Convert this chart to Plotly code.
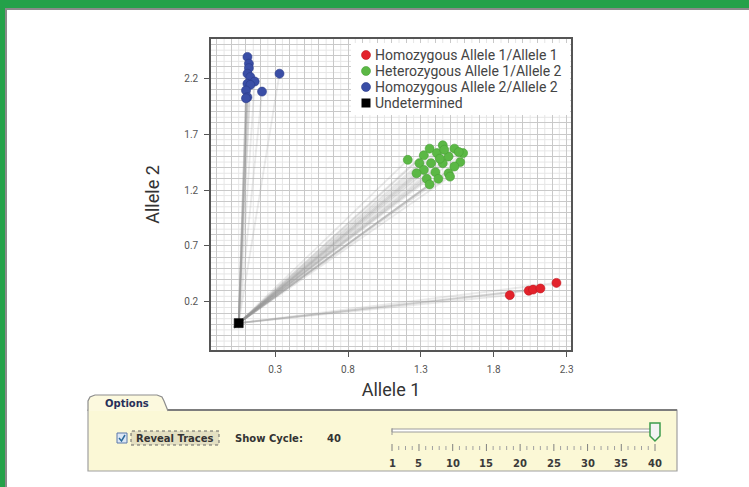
import numpy as np
import plotly.graph_objects as go

# ---------------- data ----------------
hom1_x = [1.91, 2.04, 2.07, 2.12, 2.23]
hom1_y = [0.26, 0.30, 0.31, 0.32, 0.37]

het_x = [1.21, 1.36, 1.45, 1.53, 1.59, 1.32, 1.41, 1.49, 1.57, 1.29, 1.37, 1.45,
         1.53, 1.32, 1.40, 1.49, 1.34, 1.42, 1.36, 1.50, 1.27, 1.43, 1.56, 1.46]
het_y = [1.47, 1.57, 1.60, 1.57, 1.53, 1.51, 1.53, 1.50, 1.45, 1.44, 1.44, 1.44,
         1.41, 1.38, 1.36, 1.35, 1.30, 1.30, 1.25, 1.32, 1.35, 1.48, 1.54, 1.56]

hom2_x = [0.11, 0.12, 0.12, 0.11, 0.13, 0.16, 0.11, 0.13, 0.21, 0.10, 0.11, 0.10, 0.33]
hom2_y = [2.39, 2.33, 2.29, 2.24, 2.21, 2.17, 2.15, 2.14, 2.08, 2.09, 2.03, 2.02, 2.24]

undet_x = [0.05]
undet_y = [0.01]

trace_origin_x = [0.02]
trace_origin_y = [-0.03]

x_ticks = [0.3, 0.8, 1.3, 1.8, 2.3]
y_ticks = [0.2, 0.7, 1.2, 1.7, 2.2]
x_range = [-0.14, 2.33]
y_range = [-0.23, 2.55]

legend_names = ["Homozygous Allele 1/Allele 1", "Heterozygous Allele 1/Allele 2",
                "Homozygous Allele 2/Allele 2", "Undetermined"]
legend_colors = ["#e3222b", "#5bb845", "#3a4ea6", "#000000"]

n_cycles = 40
show_cycle = 40
cycle_labels = [1, 5, 10, 15, 20, 25, 30, 35, 40]

# ---------------- figure ----------------
W, H = 749, 487
L, R, T, B = 211, 571, 39, 350   # plot area in pixels


def px(x):
    return (x - L) / (R - L)


def py(y):
    return (B - y) / (B - T)


fig = go.Figure()

trace_color = "rgba(150,150,150,0.2)"
for xs, ys in [(hom2_x, hom2_y), (het_x, het_y), (hom1_x, hom1_y)]:
    for xv, yv in zip(xs, ys):
        fig.add_trace(go.Scatter(
            x=[trace_origin_x[0], undet_x[0], xv], y=[trace_origin_y[0], undet_y[0], yv],
            mode="lines", line=dict(color=trace_color, width=1.8),
            hoverinfo="skip", showlegend=False))

series = [(hom1_x, hom1_y, "circle", "#c01820"), (het_x, het_y, "circle", "#48a035"),
          (hom2_x, hom2_y, "circle", "#2a3a8a"), (undet_x, undet_y, "square", "#000000")]
for (xs, ys, sym, edge), name, col in zip(series, legend_names, legend_colors):
    fig.add_trace(go.Scatter(x=xs, y=ys, mode="markers", name=name, showlegend=False,
                             marker=dict(color=col, size=9, symbol=sym,
                                         line=dict(color=edge, width=0.6))))

grid_dark = "#c9c9c9"
axis_common = dict(
    ticks="outside", ticklen=5, tickcolor="#555", tickwidth=1,
    tickfont=dict(family="Roboto", size=10, color="#555"),
    showline=True, linecolor="#555", linewidth=1.5, mirror=True,
    showgrid=True, gridcolor=grid_dark, gridwidth=1, zeroline=False,
    ticklabelstandoff=4,
)

fig.update_xaxes(range=x_range, tickvals=x_ticks, ticktext=[f"{v:.1f}" for v in x_ticks],
                 minor=dict(tickmode="linear", tick0=x_ticks[0], dtick=0.1, ticks="",
                            showgrid=True, gridcolor=grid_dark),
                 title=dict(text="Allele 1", font=dict(family="Roboto", size=18, color="#333"),
                            standoff=10),
                 **axis_common)
fig.update_yaxes(range=y_range, tickvals=y_ticks, ticktext=[f"{v:.1f}" for v in y_ticks],
                 minor=dict(tickmode="linear", tick0=y_ticks[0], dtick=0.1, ticks="",
                            showgrid=True, gridcolor=grid_dark),
                 title=dict(text="Allele 2", font=dict(family="Roboto", size=18, color="#333"),
                            standoff=20),
                 **axis_common)

shapes = []
annotations = []
# lighter intermediate grid lines (every 0.05 between the 0.1 lines)
for v in np.arange(-0.15, x_range[1], 0.1):
    if x_range[0] < v < x_range[1]:
        shapes.append(dict(type="line", xref="x", yref="paper", x0=v, x1=v, y0=0, y1=1,
                           layer="below", line=dict(color="#e6e6e6", width=1)))
for v in np.arange(-0.25, y_range[1], 0.1):
    if y_range[0] < v < y_range[1]:
        shapes.append(dict(type="line", xref="paper", yref="y", x0=0, x1=1, y0=v, y1=v,
                           layer="below", line=dict(color="#e6e6e6", width=1)))


def rect(x0, y0, x1, y1, fill, lc, lw=1, dash="solid"):
    shapes.append(dict(type="rect", xref="paper", yref="paper", x0=px(x0), x1=px(x1),
                       y0=py(y1), y1=py(y0), fillcolor=fill,
                       line=dict(color=lc, width=lw, dash=dash), layer="above"))


def circle(cx, cy, r, fill, lc):
    shapes.append(dict(type="circle", xref="paper", yref="paper", x0=px(cx - r), x1=px(cx + r),
                       y0=py(cy + r), y1=py(cy - r), fillcolor=fill,
                       line=dict(color=lc, width=0.6), layer="above"))


def line(x0, y0, x1, y1, lc, lw=1):
    shapes.append(dict(type="line", xref="paper", yref="paper", x0=px(x0), x1=px(x1),
                       y0=py(y0), y1=py(y1), line=dict(color=lc, width=lw), layer="above"))


def path(pts, fill, lc, lw=1, close=True):
    d = "M " + " L ".join(f"{px(a):.5f},{py(b):.5f}" for a, b in pts)
    if close:
        d += " Z"
    shapes.append(dict(type="path", xref="paper", yref="paper", path=d,
                       fillcolor=fill, line=dict(color=lc, width=lw), layer="above"))


def text(s, x, y, font, anchor="center"):
    annotations.append(dict(text=s, x=px(x), y=py(y), xref="paper", yref="paper",
                            showarrow=False, xanchor=anchor, yanchor="middle", font=font))


# legend (drawn as a compact box like the reference)
rect(351, 43, 570, 115, "white", "white", 0)
leg_font = dict(family="Roboto", size=14, color="#444")
for i, (name, col, s) in enumerate(zip(legend_names, legend_colors, series)):
    yy = 55 + i * 16
    if s[2] == "square":
        rect(361.5, yy - 4.5, 370.5, yy + 4.5, col, col, 0)
    else:
        circle(366, yy, 4.5, col, s[3])
    text(name, 373, yy, leg_font, "left")

# page frame (green border + grey rule)
rect(0, 0, W, 8, "#24a149", "#24a149", 0)
rect(0, 0, 5, H, "#24a149", "#24a149", 0)
rect(5, 8, W, 10, "#8a8a8a", "#8a8a8a", 0)
rect(5, 8, 7, H, "#8a8a8a", "#8a8a8a", 0)

# options panel
rect(88, 410, 677, 471, "#fbf8d6", "#a0a0a0", 1.2)
line(166, 410, 677, 410, "#7d7d7d", 2)
path([(88, 411), (88, 401), (90, 397), (95, 395), (157, 395), (162, 397), (164, 401), (168, 411)],
     "#fcf9de", "#8d8d8d", 1.2, close=False)
# checkbox
rect(117, 433, 127, 443, "#dce7f5", "#5a78aa", 1)
path([(119, 438), (121.5, 441), (125, 435)], "rgba(0,0,0,0)", "#2b6b9b", 1.5, close=False)
rect(131, 431, 219, 445, "#e4e0c2", "#666", 1, "dot")

# slider
x_first, x_last = 392, 655
rect(x_first, 429, x_last, 432, "#ffffff", "#9c9c9c", 1)
line(x_first, 428, x_first, 435, "#999", 1)
step = (x_last - x_first) / (n_cycles - 1)
for c in range(1, n_cycles + 1):
    xx = x_first + (c - 1) * step
    if c in cycle_labels:
        line(xx, 444, xx, 451, "#808080", 1)
    else:
        line(xx, 446, xx, 450, "#a0a0a0", 1)
tx = x_first + (show_cycle - 1) * step
path([(tx - 5, 423), (tx + 5, 423), (tx + 5, 436), (tx, 441), (tx - 5, 436)],
     "#f3f3f3", "#3d9c4c", 1.5)

ui_font = dict(family="DejaVu Sans", size=10, color="#333")
text("<b>Options</b>", 127, 403, dict(family="DejaVu Sans", size=10, color="#27305a"))
text("<b>Reveal Traces</b>", 175, 438, ui_font)
text("<b>Show Cycle:</b>", 233, 438, ui_font, "left")
text(f"<b>{show_cycle}</b>", 325, 438, ui_font, "left")
for c in cycle_labels:
    text(f"<b>{c}</b>", x_first + (c - 1) * step, 463,
         dict(family="DejaVu Sans", size=10, color="#3a3a3a"))

fig.update_layout(
    width=W, height=H,
    margin=dict(l=L, r=W - R, t=T, b=H - B),
    paper_bgcolor="white", plot_bgcolor="white",
    shapes=shapes, annotations=annotations,
    showlegend=False,
)

fig.write_html("out.html", config={"displayModeBar": False},
               post_script="document.body.style.margin='0';document.body.style.overflow='hidden';")
